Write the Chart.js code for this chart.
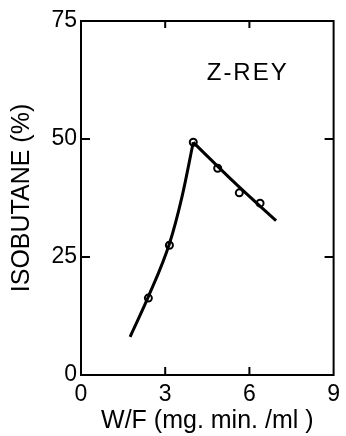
<!DOCTYPE html>
<html>
<head>
<meta charset="utf-8">
<script src="https://cdn.jsdelivr.net/npm/chart.js@4"></script>
<style>
  html, body { margin: 0; padding: 0; background: #fff; }
</style>
</head>
<body>
<canvas id="chart1" width="346" height="436"></canvas>
<script>
// Datos medidos (W/F vs isobutano)
const wfPuntos = [2.4, 3.15, 4.0, 4.87, 5.64, 6.38];
const isoPuntos = [16.3, 27.5, 49.3, 43.8, 38.6, 36.4];

// Curva dibujada a mano: tramo de subida y tramo de bajada
const wfSubida = [1.75, 2.4, 3.15, 3.6, 4.0];
const isoSubida = [8.1, 16.6, 27.8, 37.8, 49.3];
const wfBajada = [4.0, 5.5, 6.95];
const isoBajada = [49.3, 40.6, 32.7];

const ticksX = [0, 3, 6, 9];
const ticksY = [0, 25, 50, 75];
const etiqueta = 'Z-REY';

const fuente = '"Liberation Sans", Arial, sans-serif';

function pares(xs, ys) {
  return xs.map((v, i) => ({ x: v, y: ys[i] }));
}

// Marco, marcas interiores y rotulo
const marco = {
  id: 'marco',
  afterDraw(chart) {
    const { ctx, chartArea: a, scales: { x, y } } = chart;
    ctx.save();
    ctx.strokeStyle = '#000';
    ctx.lineWidth = 2;
    ctx.strokeRect(a.left, a.top, a.right - a.left, a.bottom - a.top);
    ctx.beginPath();
    ticksX.slice(1, -1).forEach(v => {
      const px = x.getPixelForValue(v);
      ctx.moveTo(px, a.bottom); ctx.lineTo(px, a.bottom - 8);
      ctx.moveTo(px, a.top); ctx.lineTo(px, a.top + 7);
    });
    ticksY.slice(1, -1).forEach(v => {
      const py = y.getPixelForValue(v);
      ctx.moveTo(a.left, py); ctx.lineTo(a.left + 9, py);
      ctx.moveTo(a.right, py); ctx.lineTo(a.right - 9, py);
    });
    ctx.stroke();

    ctx.fillStyle = '#000';
    ctx.font = '24px ' + fuente;
    ctx.letterSpacing = '2px';
    ctx.textAlign = 'center';
    ctx.textBaseline = 'middle';
    ctx.fillText(etiqueta, x.getPixelForValue(5.94), y.getPixelForValue(63.9));
    ctx.restore();
  }
};

const ctx1 = document.getElementById('chart1').getContext('2d');
new Chart(ctx1, {
  type: 'scatter',
  data: {
    datasets: [{
      data: pares(wfSubida, isoSubida),
      showLine: true,
      borderColor: '#000',
      borderWidth: 3,
      pointRadius: 0,
      cubicInterpolationMode: 'monotone'
    }, {
      data: pares(wfBajada, isoBajada),
      showLine: true,
      borderColor: '#000',
      borderWidth: 3,
      pointRadius: 0,
      cubicInterpolationMode: 'monotone'
    }, {
      data: pares(wfPuntos, isoPuntos),
      pointRadius: 3.5,
      pointBorderWidth: 2,
      pointBorderColor: '#000',
      pointBackgroundColor: '#fff'
    }]
  },
  options: {
    responsive: false,
    animation: false,
    layout: { autoPadding: false, padding: { top: 21, right: 3, left: 0, bottom: 0 } },
    plugins: {
      legend: { display: false },
      tooltip: { enabled: false }
    },
    scales: {
      x: {
        type: 'linear',
        min: 0,
        max: 9,
        afterBuildTicks: s => { s.ticks = ticksX.map(v => ({ value: v })); },
        afterFit: s => { s.height = 61; },
        grid: { display: false, drawTicks: false },
        border: { display: false },
        ticks: { padding: 6, color: '#000', font: { family: fuente, size: 23 } },
        title: {
          display: true,
          text: 'W/F (mg. min. /ml )',
          color: '#000',
          font: { family: fuente, size: 25 },
          padding: { top: 0, bottom: 0 }
        }
      },
      y: {
        type: 'linear',
        min: 0,
        max: 75,
        afterBuildTicks: s => { s.ticks = ticksY.map(v => ({ value: v })); },
        afterFit: s => { s.width = 81; },
        grid: { display: false, drawTicks: false },
        border: { display: false },
        ticks: { padding: 4, color: '#000', font: { family: fuente, size: 23 } },
        title: {
          display: true,
          text: 'ISOBUTANE (%)',
          color: '#000',
          font: { family: fuente, size: 25 },
          padding: { top: 7, bottom: 0 }
        }
      }
    }
  },
  plugins: [marco]
});
</script>
</body>
</html>
